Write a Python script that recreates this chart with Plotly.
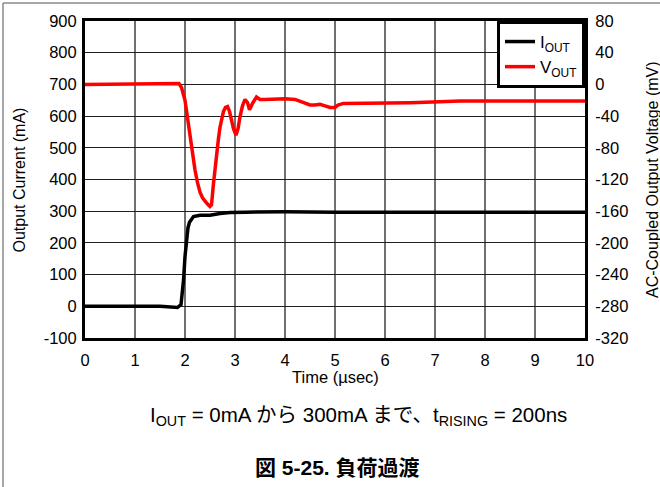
import plotly.graph_objects as go

# Load current step (mA) versus time (usec)
t_iout = [0, 0.5, 1.0, 1.5, 1.7, 1.85, 1.92, 1.97, 2.0, 2.03, 2.06, 2.09, 2.13, 2.17,
          2.3, 2.5, 2.7, 2.9, 3.2, 3.5, 4, 5, 6, 7, 8, 9, 10]
iout_ma = [0, 1, 0, 0, -3, -4, 5, 82, 157, 220, 248, 265, 276, 283,
           287, 287, 293, 296, 297, 298, 298, 297, 297, 297, 298, 298, 297]

# AC-coupled output voltage response (mV) versus time (usec)
t_vout = [0, 1.0, 1.8, 1.88, 1.93, 1.97, 2.0, 2.05, 2.1, 2.15, 2.2, 2.25, 2.3, 2.35,
          2.4, 2.45, 2.5, 2.53, 2.57, 2.6, 2.63, 2.67, 2.70, 2.74, 2.77, 2.81, 2.85,
          2.89, 2.93, 2.97, 3.02, 3.06, 3.1, 3.15, 3.2, 3.25, 3.29, 3.35, 3.43, 3.5,
          3.6, 3.8, 4.0, 4.2, 4.35, 4.5, 4.6, 4.7, 4.8, 4.9, 5.0, 5.06, 5.17, 5.5,
          6.0, 6.37, 6.5, 7.1, 7.5, 8.0, 9.0, 10]
vout_mv = [0, 0, 1, 1, -4, -12, -20, -42, -66, -88, -108, -124, -136, -143,
           -148, -151, -154, -152, -125, -106, -87, -68, -54, -42, -34, -29, -28,
           -34, -45, -56, -64, -56, -41, -27, -19, -23, -32, -24, -16, -19,
           -19, -18, -18, -19, -22, -26, -26, -25, -27, -29, -29, -26, -24, -24,
           -24, -23, -23, -22, -21, -21, -21, -21]

x_ticks = list(range(0, 11))
left_ticks = list(range(-100, 901, 100))
right_ticks = list(range(-320, 81, 40))
# plain hyphen-minus in tick labels
left_labels = [str(v) for v in left_ticks]
right_labels = [str(v) for v in right_ticks]

FONT = "Arial, Liberation Sans, Noto Sans CJK JP, sans-serif"

fig = go.Figure()
fig.add_trace(go.Scatter(x=t_iout, y=iout_ma, mode="lines", name="I<sub>OUT</sub>",
                         line=dict(color="black", width=3.5), yaxis="y"))
fig.add_trace(go.Scatter(x=t_vout, y=vout_mv, mode="lines", name="V<sub>OUT</sub>",
                         line=dict(color="#ff0000", width=3.5), yaxis="y2"))

# pixel -> paper helpers for a 500x317 plot area at (85, 21)
L, T, W, H = 85, 21, 500, 317
def px(x):
    return (x - L) / W
def py(y):
    return (T + H - y) / H

fig.update_layout(
    width=660, height=487,
    margin=dict(l=L, r=660 - L - W, t=T, b=487 - T - H, autoexpand=False),
    paper_bgcolor="white", plot_bgcolor="white",
    font=dict(family=FONT, color="black", size=16),
    showlegend=True,
    legend=dict(x=1, y=1, xanchor="right", yanchor="top",
                bgcolor="white", bordercolor="black", borderwidth=3,
                font=dict(size=17, family=FONT), tracegroupgap=0,
                itemwidth=30),
    xaxis=dict(range=[0, 10], tickvals=x_ticks, showgrid=True,
               gridcolor="#707070", gridwidth=1.5, zeroline=False,
               showline=True, linecolor="black", linewidth=3, mirror=True,
               ticks="", ticklabelstandoff=5, tickfont=dict(size=16.5)),
    yaxis=dict(range=[-100, 900], tickvals=left_ticks, ticktext=left_labels,
               showgrid=True, gridcolor="#202020", gridwidth=1, zeroline=False,
               showline=True, linecolor="black", linewidth=3, mirror=True,
               ticks="", ticklabelstandoff=2, tickfont=dict(size=16.5)),
    yaxis2=dict(range=[-320, 80], tickvals=right_ticks, ticktext=right_labels,
                overlaying="y", side="right",
                showgrid=False, zeroline=False, showline=True, linecolor="black",
                linewidth=3, ticks="", ticklabelstandoff=4, tickfont=dict(size=16.5)),
    shapes=[
        dict(type="line", xref="paper", yref="paper", x0=px(3), x1=px(3),
             y0=py(3), y1=py(495), line=dict(color="#8a8a8a", width=1.5)),
        dict(type="line", xref="paper", yref="paper", x0=px(3), x1=px(665),
             y0=py(3), y1=py(3), line=dict(color="#8a8a8a", width=1.5)),
    ],
    annotations=[
        dict(text="Output Current (mA)", xref="paper", yref="paper",
             x=px(18.5), y=py(180), textangle=-90, showarrow=False,
             xanchor="center", yanchor="middle", font=dict(size=16)),
        dict(text="AC-Coupled Output Voltage (mV)", xref="paper", yref="paper",
             x=px(652), y=py(180), textangle=-90, showarrow=False,
             xanchor="center", yanchor="middle", font=dict(size=16)),
        dict(text="Time (\u00b5sec)", xref="paper", yref="paper",
             x=px(335), y=py(377), showarrow=False,
             xanchor="center", yanchor="middle", font=dict(size=16.5)),
        dict(text="I<sub>OUT</sub> = 0mA から 300mA まで、t<sub>RISING</sub> = 200ns",
             xref="paper", yref="paper", x=px(148), y=py(416), showarrow=False,
             xanchor="left", yanchor="middle", font=dict(size=20.5)),
        dict(text="<b>図 5-25. 負荷過渡</b>", xref="paper", yref="paper",
             x=px(337), y=py(467), showarrow=False,
             xanchor="center", yanchor="middle", font=dict(size=21)),
    ],
)

fig.write_html("out.html")
